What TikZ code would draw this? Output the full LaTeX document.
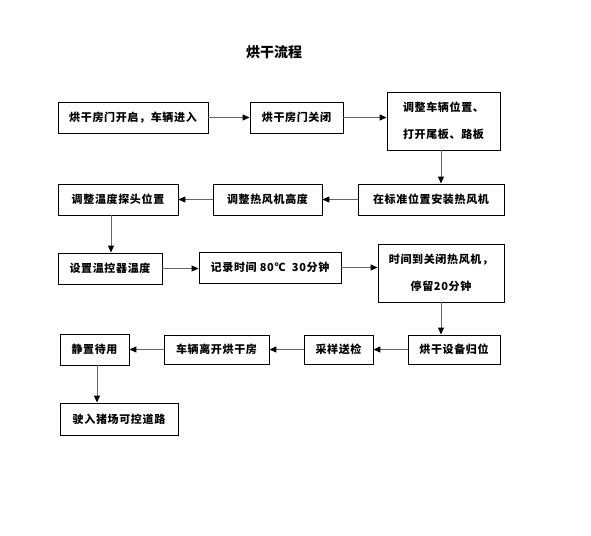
\documentclass[tikz,border=0pt]{standalone}
\usepackage{fontspec}
\newfontfamily\cjk{Noto Sans CJK SC}
\newfontfamily\cjkw{Noto Sans CJK SC}[LetterSpace=6]
\usetikzlibrary{arrows.meta}
\begin{document}
\begin{tikzpicture}[x=1bp,y=-1bp,
  box/.style={draw=black,line width=0.9bp,rectangle,inner sep=0pt,font=\cjkw\fontsize{11bp}{27bp}\selectfont\bfseries,align=center},
  flow/.style={draw=black!60,line width=1bp,-{Triangle[length=7bp,width=6bp,fill=black,color=black]}}]
\useasboundingbox (0,0) rectangle (591,536);
\node[font=\cjk\fontsize{14bp}{16bp}\selectfont\bfseries] (title) at (274,52) {烘干流程};
% row 1
\node[box,minimum width=150bp,minimum height=31bp] (a1) at (133,117.5) {烘干房门开启，车辆进入};
\node[box,minimum width=93bp,minimum height=31bp] (a2) at (296.5,117.5) {烘干房门关闭};
\node[box,minimum width=113bp,minimum height=58bp] (a3) at (443.5,121) {调整车辆位置、\\打开尾板、路板};
% row 2
\node[box,minimum width=146bp,minimum height=31bp] (b3) at (431,199.5) {在标准位置安装热风机};
\node[box,minimum width=109bp,minimum height=31bp] (b2) at (267.5,199.5) {调整热风机高度};
\node[box,minimum width=120bp,minimum height=31bp] (b1) at (118,199.5) {调整温度探头位置};
% row 3
\node[box,minimum width=104bp,minimum height=31bp] (c1) at (110,268.5) {设置温控器温度};
\node[box,minimum width=142bp,minimum height=31bp] (c2) at (270,267.5) {记录时间 80℃\ \ 30分钟};
\node[box,minimum width=126bp,minimum height=58bp] (c3) at (441,273) {时间到关闭热风机，\\停留20分钟};
% row 4
\node[box,minimum width=92bp,minimum height=29bp] (d4) at (454,349.5) {烘干设备归位};
\node[box,minimum width=69bp,minimum height=29bp] (d3) at (338.5,349.5) {采样送检};
\node[box,minimum width=105bp,minimum height=29bp] (d2) at (216.5,349.5) {车辆离开烘干房};
\node[box,minimum width=69bp,minimum height=31bp] (d1) at (94.5,349.5) {静置待用};
% row 5
\node[box,minimum width=118bp,minimum height=32bp] (e1) at (119,419) {驶入猪场可控道路};
% connectors
\draw[flow] (a1.east) -- (a2.west);
\draw[flow] (a2.east) -- (a2.east -| a3.west);
\draw[flow] (a3.south -| 441,0) -- (b3.north -| 441,0);
\draw[flow] (b3.west) -- (b2.east);
\draw[flow] (b2.west) -- (b1.west -| b1.east);
\draw[flow] (b1.south -| 111,0) -- (c1.north -| 111,0);
\draw[flow] (c1.east) -- (c1.east -| c2.west);
\draw[flow] (c2.east) -- (c2.east -| c3.west);
\draw[flow] (c3.south -| 441,0) -- (d4.north -| 441,0);
\draw[flow] (d4.west) -- (d3.east);
\draw[flow] (d3.west) -- (d2.east);
\draw[flow] (d2.west) -- (d1.east);
\draw[flow] (d1.south -| 97,0) -- (e1.north -| 97,0);
\end{tikzpicture}
\end{document}
